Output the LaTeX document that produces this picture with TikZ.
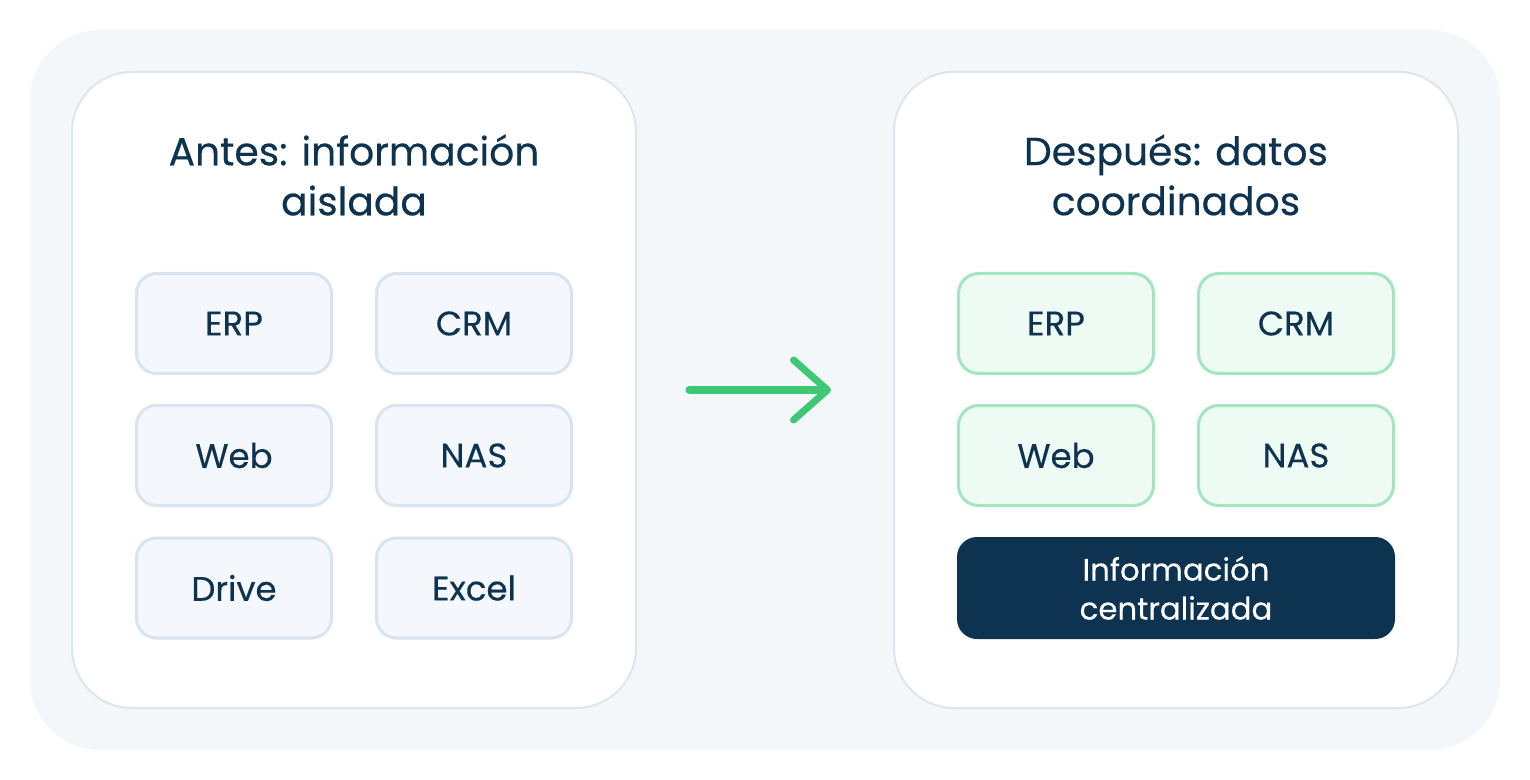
\documentclass[tikz,border=0pt]{standalone}
\usepackage{fontspec}
\setmainfont{Poppins}[FakeBold=0.35]
\usepackage{xcolor}
\usetikzlibrary{arrows.meta}
\definecolor{navy}{HTML}{0E3350}
\definecolor{panelbg}{HTML}{F4F7FA}
\definecolor{cardline}{HTML}{DCE6EE}
\definecolor{oldfill}{HTML}{F4F8FC}
\definecolor{oldline}{HTML}{D8E4EF}
\definecolor{newfill}{HTML}{EEFAF4}
\definecolor{newline}{HTML}{A2E5BF}
\definecolor{flow}{HTML}{3EC774}
\tikzset{
  panel/.style={draw=none,fill=panelbg,rounded corners=35pt},
  card/.style={draw=cardline,line width=1pt,fill=white,rounded corners=30pt,
    minimum width=282pt,minimum height=318pt},
  ttl/.style={text=navy,font=\fontsize{19.6}{25}\selectfont,align=center},
  oldbox/.style={draw=oldline,line width=1.5pt,fill=oldfill,rounded corners=10pt,
    minimum width=97.5pt,minimum height=50pt,text=navy,font=\fontsize{17}{19}\selectfont},
  newbox/.style={oldbox,draw=newline,fill=newfill},
  hub/.style={draw=none,fill=navy,rounded corners=10pt,minimum width=219pt,minimum height=51pt,
    text=white,align=center,font=\fontsize{15.4}{19.5}\selectfont},
  flowarrow/.style={draw=flow,line width=3.5pt,line cap=round,
    -{Straight Barb[length=17pt,width=30pt,round]}}
}
\begin{document}
\begin{tikzpicture}[x=0.5pt,y=-0.5pt]
\useasboundingbox (0,0) rectangle (1530,780);
\fill[panel] (30,30) rectangle (1500,750);
% before
\node[card] (before) at (354,390) {};
\node[ttl] (beforettl) at (354,175) {Antes: información\\aislada};
\node[oldbox] (erpa) at (234,323.5) {ERP};
\node[oldbox] (crma) at (474,323.5) {CRM};
\node[oldbox] (weba) at (234,455.5) {Web};
\node[oldbox] (nasa) at (474,455.5) {NAS};
\node[oldbox] (drive) at (234,588) {Drive};
\node[oldbox] (excel) at (474,588) {Excel};
% after
\node[card] (after) at (1176,390) {};
\node[ttl] (afterttl) at (1176,175) {Después: datos\\coordinados};
\node[newbox] (erpb) at (1056,323.5) {ERP};
\node[newbox] (crmb) at (1296,323.5) {CRM};
\node[newbox] (webb) at (1056,455.5) {Web};
\node[newbox] (nasb) at (1296,455.5) {NAS};
\node[hub] (central) at (1176,588) {Información\\centralizada};
% arrow
\coordinate (from) at (689,390);
\coordinate (to) at (831,390);
\draw[flowarrow] (from) -- (to);
\end{tikzpicture}
\end{document}
